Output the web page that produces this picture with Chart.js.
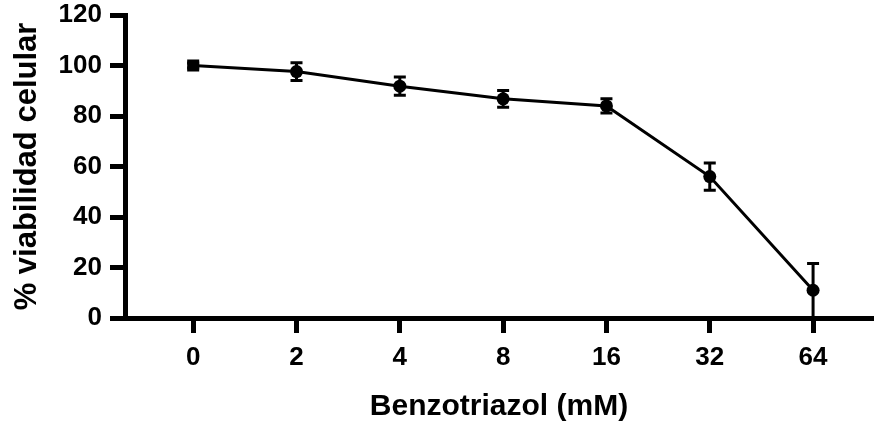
<!DOCTYPE html>
<html>
<head>
<meta charset="utf-8">
<script src="https://cdn.jsdelivr.net/npm/chart.js@4/dist/chart.umd.min.js"></script>
<style>
  html, body { margin: 0; padding: 0; background: #fff; }
  #wrap { width: 874px; height: 425px; }
</style>
</head>
<body>
<div id="wrap"><canvas id="c"></canvas></div>
<script>
// concentration labels (mM) and viability values
var doses = ['0', '2', '4', '8', '16', '32', '64'];
var viability = [100, 97.6, 91.8, 86.8, 84, 56, 11];
var errorSD = [1, 3.5, 3.6, 3.3, 2.8, 5.4, 10.6];
var yTicks = [0, 20, 40, 60, 80, 100, 120];

var points = viability.map(function(v, i) { return { x: i, y: v }; });

// draws the vertical error bars with caps
var errorBars = {
    id: 'errorBars',
    afterDatasetsDraw: function(chart) {
        var xs = chart.scales.x, ys = chart.scales.y;
        var ctx = chart.ctx;
        ctx.save();
        ctx.strokeStyle = '#000';
        ctx.lineWidth = 3;
        viability.forEach(function(v, i) {
            var px = xs.getPixelForValue(i);
            var top = ys.getPixelForValue(v + errorSD[i]);
            var bot = ys.getPixelForValue(Math.max(0, v - errorSD[i]));
            ctx.beginPath();
            ctx.moveTo(px, top); ctx.lineTo(px, bot);
            ctx.moveTo(px - 6, top); ctx.lineTo(px + 6, top);
            if (v - errorSD[i] > 0.5) { ctx.moveTo(px - 6, bot); ctx.lineTo(px + 6, bot); }
            ctx.stroke();
        });
        ctx.restore();
    }
};

Chart.defaults.font.family = '"Liberation Sans", Arial, sans-serif';
Chart.defaults.font.weight = 'bold';
Chart.defaults.color = '#000';

new Chart(document.getElementById('c'), {
    type: 'scatter',
    data: {
        datasets: [{
            data: points,
            showLine: true,
            borderColor: '#000',
            borderWidth: 3,
            backgroundColor: '#000',
            pointBackgroundColor: '#000',
            pointBorderWidth: 0,
            pointStyle: ['rect', 'circle', 'circle', 'circle', 'circle', 'circle', 'circle'],
            pointRadius: [8.5, 6.5, 6.5, 6.5, 6.5, 6.5, 6.5],
            clip: false
        }]
    },
    options: {
        responsive: true,
        maintainAspectRatio: false,
        animation: false,
        layout: { autoPadding: false, padding: { top: 15, right: 1, left: 0, bottom: 0 } },
        plugins: { legend: { display: false }, tooltip: { enabled: false } },
        scales: {
            x: {
                type: 'linear',
                min: -0.66,
                max: 6.58,
                afterBuildTicks: function(s) { s.ticks = doses.map(function(d, i) { return { value: i }; }); },
                afterFit: function(s) { s.height = 107; s.paddingLeft = 0; s.paddingRight = 0; },
                grid: { drawOnChartArea: false, drawTicks: true, tickLength: 15, tickWidth: 5, tickColor: '#000' },
                border: { display: true, width: 5, color: '#000' },
                ticks: {
                    padding: 9,
                    font: { size: 26, weight: 'bold' },
                    color: '#000',
                    maxRotation: 0,
                    callback: function(v) { return doses[v]; }
                },
                title: {
                    display: true,
                    text: 'Benzotriazol (mM)',
                    font: { size: 30, weight: 'bold' },
                    color: '#000',
                    padding: { top: 4, bottom: 0 }
                }
            },
            y: {
                min: 0,
                max: 120,
                afterBuildTicks: function(s) { s.ticks = yTicks.map(function(t) { return { value: t }; }); },
                afterFit: function(s) { s.width = 125; s.paddingTop = 0; s.paddingBottom = 0; },
                grid: { drawOnChartArea: false, drawTicks: true, tickLength: 15, tickWidth: 5, tickColor: '#000' },
                border: { display: true, width: 5, color: '#000' },
                ticks: {
                    padding: 8,
                    font: { size: 26, weight: 'bold' },
                    color: '#000'
                },
                title: {
                    display: true,
                    text: '% viabilidad celular',
                    font: { size: 31, weight: 'bold' },
                    color: '#000',
                    padding: { top: 9, bottom: 0 }
                }
            }
        }
    },
    plugins: [errorBars]
});
</script>
</body>
</html>
